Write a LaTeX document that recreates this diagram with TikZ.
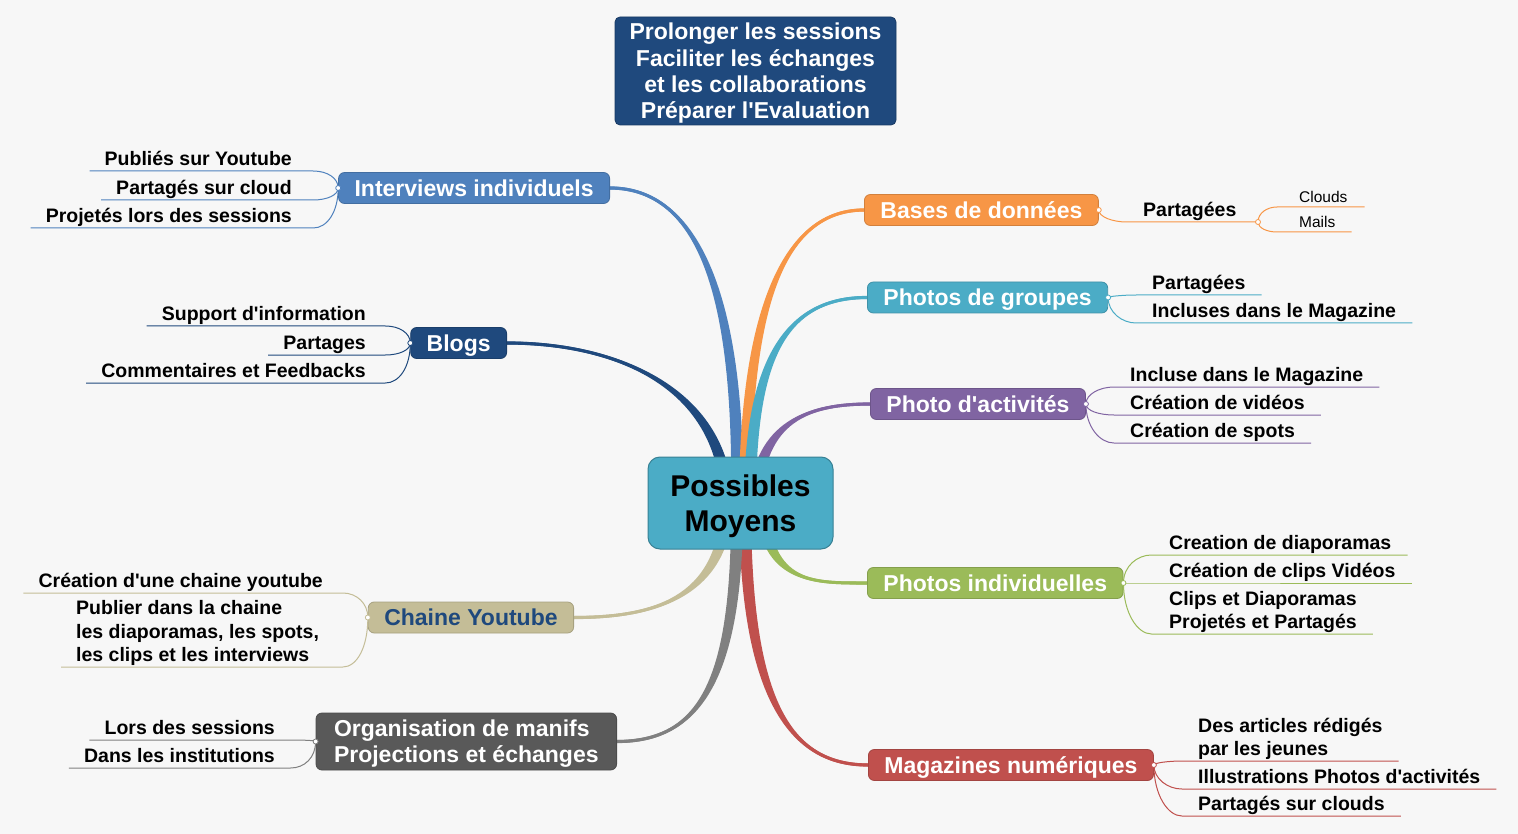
\documentclass[tikz,border=0pt]{standalone}
\usepackage{fontspec}
\setmainfont{Liberation Sans}
\usetikzlibrary{calc}
\pgfdeclarelayer{back}\pgfdeclarelayer{curves}
\pgfsetlayers{back,curves,main}
\definecolor{bg}{HTML}{F7F7F7}
\definecolor{navy}{HTML}{1F497D}
\definecolor{cblue}{HTML}{4F81BD}
\definecolor{cteal}{HTML}{4BACC6}
\definecolor{corange}{HTML}{F79646}
\definecolor{cpurple}{HTML}{8064A2}
\definecolor{cgreen}{HTML}{9BBB59}
\definecolor{cred}{HTML}{C0504D}
\definecolor{ctan}{HTML}{C4BD97}
\definecolor{cgrey}{HTML}{595959}
\definecolor{cgreyl}{HTML}{808080}
\newcommand\leaffont{\fontsize{19.5}{23.5}\selectfont\bfseries}
\newcommand\boxfont{\fontsize{23}{26}\selectfont\bfseries}
\newcommand\ap{\textquotesingle}
% tapered main connector: color, start, end, c1, c2, offset a, offset b
\newcommand\taper[7]{%
  \fill[#1] ($(#2)+(-6,0)$) .. controls ($(#4)+(-6,0)$) and ($(#5)+(0,#6)$) .. ($(#3)+(0,#6)$) -- ($(#3)+(0,#7)$) .. controls ($(#5)+(0,#7)$) and ($(#4)+(6,0)$) .. ($(#2)+(6,0)$) -- cycle;
  \draw[#1, line width=3pt] (#2) .. controls (#4) and (#5) .. (#3);}
\newcommand\LL[5]{\draw[sub,#1] (#2) .. controls +(0,#5) and +(14,0) .. (#3 |- #4.south) -- ($(#4.south west)+(-15,0)$);}
\newcommand\RL[5]{\draw[sub,#1] (#2) .. controls +(0,#5) and +(-14,0) .. (#3 |- #4.south) -- ($(#4.south east)+(16,0)$);}
\begin{document}
\begin{tikzpicture}[x=1pt,y=-1pt,
  mainbox/.style={rounded corners=6pt, minimum height=31pt, inner xsep=16pt, inner ysep=0pt, text depth=0pt, font=\boxfont, text=white, line width=0.8pt},
  leaf/.style={font=\leaffont, inner xsep=0pt, inner ysep=1pt, text depth=4pt, align=left},
  small/.style={font=\fontsize{15.5}{18}\selectfont, inner xsep=0pt, inner ysep=1pt, text depth=3.5pt},
  sub/.style={line width=1pt},
  dot/.style={circle, fill=white, draw, line width=0.8pt, inner sep=0pt, minimum size=5pt}
]
\useasboundingbox (0,0) rectangle (1518,834);
\begin{pgfonlayer}{back}
\fill[bg] (0,0) rectangle (1518,834);
\end{pgfonlayer}

% top note
\node[fill=navy, draw=navy!80!black, line width=0.8pt, rounded corners=5pt, minimum width=281pt, minimum height=108pt, align=center, inner sep=0pt, text depth=-3.5pt, text=white, font=\fontsize{23}{26.3}\selectfont\bfseries] (top) at (755.5,71) {Prolonger les sessions\\Faciliter les échanges\\et les collaborations\\Préparer l\ap Evaluation};

% center
\node[fill=cteal, draw=cteal!75!black, line width=1pt, rounded corners=12pt, minimum width=185pt, minimum height=92pt, align=center, inner sep=0pt, text depth=-0.7pt, font=\fontsize{30}{35}\selectfont\bfseries, text=black] (c) at (740.5,503) {Possibles\\Moyens};

% main boxes
\node[mainbox, fill=cblue, draw=cblue!85!black, anchor=east] (ib) at (610,188) {Interviews individuels};
\node[mainbox, fill=navy, draw=navy!85!black, anchor=east] (bb) at (507,343) {Blogs};
\node[mainbox, fill=ctan, draw=ctan!85!black, text=navy, anchor=east] (yb) at (574,617.5) {Chaine Youtube};
\node[mainbox, fill=cgrey, draw=cgrey!85!black, anchor=east, align=left, minimum height=57pt, inner xsep=18pt] (ob) at (617,741.5) {Organisation de manifs\\Projections et échanges};
\node[mainbox, fill=corange, draw=corange!85!black, anchor=west] (db) at (864,210) {Bases de données};
\node[mainbox, fill=cteal, draw=cteal!85!black, anchor=west] (gb) at (867,297.5) {Photos de groupes};
\node[mainbox, fill=cpurple, draw=cpurple!85!black, anchor=west] (ab) at (870,404) {Photo d\ap activités};
\node[mainbox, fill=cgreen, draw=cgreen!85!black, anchor=west] (pb) at (867,583) {Photos individuelles};
\node[mainbox, fill=cred, draw=cred!85!black, anchor=west] (mb) at (868,765) {Magazines numériques};

% start points of the main connectors
\coordinate (s1) at ($(c.center)+(-3.5,0)$);
\coordinate (s2) at ($(c.center)+(-13.5,0)$);
\coordinate (s3) at ($(c.center)+(4.5,0)$);
\coordinate (s4) at ($(c.center)+(9.5,0)$);
\coordinate (s5) at ($(c.center)+(14.5,0)$);
\coordinate (s6) at ($(c.center)+(21.5,0)$);
\coordinate (s7) at ($(c.center)+(4.5,0)$);
\coordinate (s8) at ($(c.center)+(-3.5,0)$);
\coordinate (s9) at ($(c.center)+(-13.5,0)$);

\begin{pgfonlayer}{curves}
\taper{cblue}{s1}{ib.east}{740,300}{700,188}{1.6}{-1.6}
\taper{navy}{s2}{bb.east}{725,390}{620,343}{1.6}{-1.6}
\taper{corange}{s3}{db.west}{745,330}{775,210}{-1.6}{1.6}
\taper{cteal}{s4}{gb.west}{750,360}{785,297.5}{-1.6}{1.6}
\taper{cpurple}{s5}{ab.west}{758,420}{810,404}{-1.6}{1.6}
\taper{cgreen}{s6}{pb.west}{765,585}{815,583}{1.6}{-1.6}
\taper{cred}{s7}{mb.west}{745,700}{790,765}{1.6}{-1.6}
\taper{cgreyl}{s8}{ob.east}{738,680}{700,741.5}{-1.6}{1.6}
\taper{ctan}{s9}{yb.east}{725,600}{650,617.5}{-1.6}{1.6}
\end{pgfonlayer}

% leaves, left
\node[leaf, anchor=south east] (i1) at (292,171) {Publiés sur Youtube};
\node[leaf, anchor=south east] (i2) at (292,200) {Partagés sur cloud};
\node[leaf, anchor=south east] (i3) at (292,228) {Projetés lors des sessions};
\node[leaf, anchor=south east] (b1) at (366,326) {Support d\ap information};
\node[leaf, anchor=south east] (b2) at (366,355) {Partages};
\node[leaf, anchor=south east] (b3) at (366,383) {Commentaires et Feedbacks};
\node[leaf, anchor=south east] (y1) at (323,593) {Création d\ap une chaine youtube};
\node[leaf, anchor=south west] (y2) at (76,667) {Publier dans la chaine\\les diaporamas, les spots,\\les clips et les interviews};
\node[leaf, anchor=south east] (o1) at (275,740) {Lors des sessions};
\node[leaf, anchor=south east] (o2) at (275,768) {Dans les institutions};

% leaves, right
\node[leaf, anchor=south west] (d1) at (1143,222) {Partagées};
\node[small, anchor=south west] (d2) at (1299,207) {Clouds};
\node[small, anchor=south west] (d3) at (1299,232) {Mails};
\node[leaf, anchor=south west] (g1) at (1152,295) {Partagées};
\node[leaf, anchor=south west] (g2) at (1152,323) {Incluses dans le Magazine};
\node[leaf, anchor=south west] (a1) at (1130,387) {Incluse dans le Magazine};
\node[leaf, anchor=south west] (a2) at (1130,415) {Création de vidéos};
\node[leaf, anchor=south west] (a3) at (1130,443) {Création de spots};
\node[leaf, anchor=south west] (p1) at (1169,555) {Creation de diaporamas};
\node[leaf, anchor=south west] (p2) at (1169,583) {Création de clips Vidéos};
\node[leaf, anchor=south west] (p3) at (1169,634) {Clips et Diaporamas\\Projetés et Partagés};
\node[leaf, anchor=south west] (m1) at (1198,761) {Des articles rédigés\\par les jeunes};
\node[leaf, anchor=south west] (m2) at (1198,789) {Illustrations Photos d\ap activités};
\node[leaf, anchor=south west] (m3) at (1198,816) {Partagés sur clouds};

% sub-connectors
\coordinate (ie) at ($(ib.west)+(-25,0)$);
\coordinate (be) at ($(bb.west)+(-25,0)$);
\coordinate (ye) at ($(yb.west)+(-25,0)$);
\coordinate (oe) at ($(ob.west)+(-25,0)$);
\coordinate (de) at ($(db.east)+(28,0)$);
\coordinate (dj2) at (1258,222);
\coordinate (de2) at ($(dj2)+(19,0)$);
\coordinate (ge) at ($(gb.east)+(28,0)$);
\coordinate (ae) at ($(ab.east)+(28,0)$);
\coordinate (pe) at ($(pb.east)+(28,0)$);
\coordinate (me) at ($(mb.east)+(28,0)$);

\LL{cblue}{ib.west}{ie}{i1}{-10}
\LL{cblue}{ib.west}{ie}{i2}{7}
\LL{cblue}{ib.west}{ie}{i3}{24}
\LL{navy}{bb.west}{be}{b1}{-10}
\LL{navy}{bb.west}{be}{b2}{7}
\LL{navy}{bb.west}{be}{b3}{24}
\LL{ctan}{yb.west}{ye}{y1}{-14}
\LL{ctan}{yb.west}{ye}{y2}{30}
\LL{cgreyl}{ob.west}{oe}{o1}{-1}
\LL{cgreyl}{ob.west}{oe}{o2}{16}

\draw[sub,corange] (db.east) .. controls +(0,7) and +(-14,0) .. (de |- d1.south) -- (dj2);
\draw[sub,corange] (dj2) .. controls +(0,-9) and +(-10,0) .. (de2 |- d2.south) -- ($(d2.south east)+(17,0)$);
\draw[sub,corange] (dj2) .. controls +(0,6) and +(-10,0) .. (de2 |- d3.south) -- ($(d3.south east)+(16,0)$);
\RL{cteal}{gb.east}{ge}{g1}{-1}
\RL{cteal}{gb.east}{ge}{g2}{15}
\RL{cpurple}{ab.east}{ae}{a1}{-10}
\RL{cpurple}{ab.east}{ae}{a2}{7}
\RL{cpurple}{ab.east}{ae}{a3}{23}
\RL{cgreen}{pb.east}{pe}{p1}{-17}
\RL{cgreen}{pb.east}{pe}{p2}{0}
\RL{cgreen}{pb.east}{pe}{p3}{30}
\RL{cred}{mb.east}{me}{m1}{-2}
\RL{cred}{mb.east}{me}{m2}{14}
\RL{cred}{mb.east}{me}{m3}{30}

% junction dots
\node[dot, draw=cblue] (ij) at (ib.west) {};
\node[dot, draw=navy] (bj) at (bb.west) {};
\node[dot, draw=ctan] (yj) at (yb.west) {};
\node[dot, draw=cgreyl] (oj) at (ob.west) {};
\node[dot, draw=corange] (dj) at (db.east) {};
\node[dot, draw=corange] (djj) at (dj2) {};
\node[dot, draw=cteal] (gj) at (gb.east) {};
\node[dot, draw=cpurple] (aj) at (ab.east) {};
\node[dot, draw=cgreen] (pj) at (pb.east) {};
\node[dot, draw=cred] (mj) at (mb.east) {};
\end{tikzpicture}
\end{document}
